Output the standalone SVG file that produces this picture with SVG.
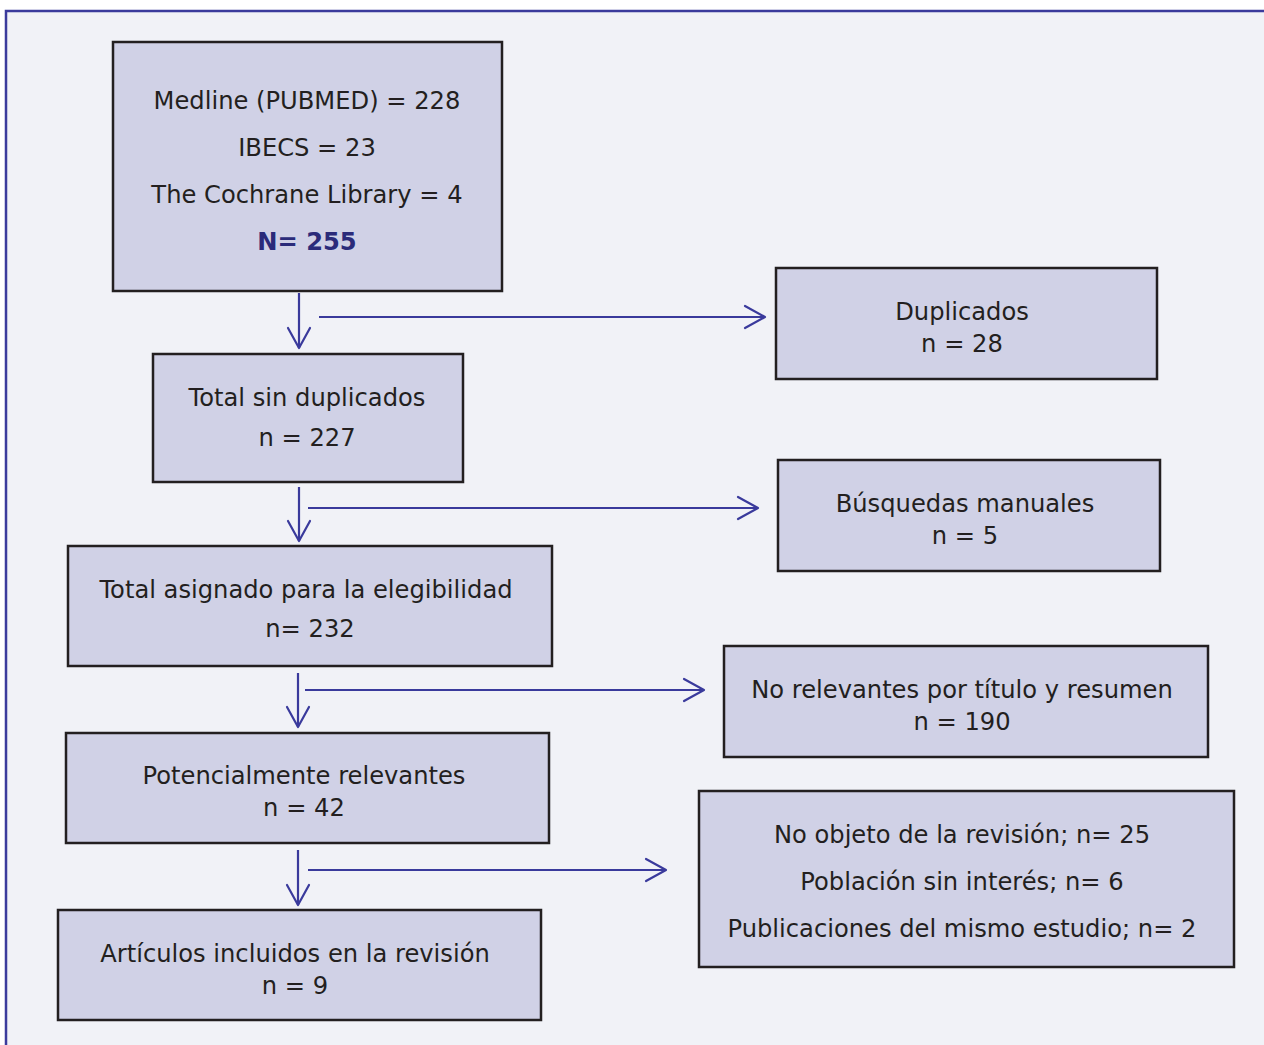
<svg xmlns="http://www.w3.org/2000/svg" width="1264" height="1045" viewBox="0 0 1264 1045">
<style>
.box{fill:#d0d1e6;stroke:#231f20;stroke-width:2.5}
.t{font-family:"DejaVu Sans",Verdana,sans-serif;font-size:24.2px;fill:#231f20;text-anchor:middle}
.b{font-weight:bold;fill:#2b2b7a}
.c{stroke:#3a3a9c;stroke-width:2.2;fill:none}
</style>
<defs>
<marker id="ah" viewBox="-22 -13 24 26" markerWidth="24" markerHeight="26" refX="0" refY="0" markerUnits="userSpaceOnUse" orient="auto">
<path d="M-20,-11 L0,0 L-20,11" fill="none" stroke="#3a3a9c" stroke-width="2.2" stroke-linejoin="round" stroke-linecap="round"/>
</marker>
</defs>
<rect x="0" y="0" width="1264" height="1045" fill="#ffffff"/>
<rect x="6" y="11" width="1258" height="1034" fill="#f1f2f7"/>
<path d="M6,1045 V11 H1264" fill="none" stroke="#3b3b9c" stroke-width="2.5"/>
<g id="n1">
<rect class="box" x="113" y="42" width="389" height="249"/>
<text class="t" x="307" y="109">Medline (PUBMED) = 228</text>
<text class="t" x="307" y="156">IBECS = 23</text>
<text class="t" x="307" y="203">The Cochrane Library = 4</text>
<text class="t b" x="307" y="250">N= 255</text>
</g>
<g id="n2">
<rect class="box" x="776" y="268" width="381" height="111"/>
<text class="t" x="962" y="320">Duplicados</text>
<text class="t" x="962" y="352">n = 28</text>
</g>
<g id="n3">
<rect class="box" x="153" y="354" width="310" height="128"/>
<text class="t" x="307" y="406">Total sin duplicados</text>
<text class="t" x="307" y="446">n = 227</text>
</g>
<g id="n4">
<rect class="box" x="778" y="460" width="382" height="111"/>
<text class="t" x="965" y="512">Búsquedas manuales</text>
<text class="t" x="965" y="544">n = 5</text>
</g>
<g id="n5">
<rect class="box" x="68" y="546" width="484" height="120"/>
<text class="t" x="306" y="598">Total asignado para la elegibilidad</text>
<text class="t" x="310" y="637">n= 232</text>
</g>
<g id="n6">
<rect class="box" x="724" y="646" width="484" height="111"/>
<text class="t" x="962" y="698">No relevantes por título y resumen</text>
<text class="t" x="962" y="730">n = 190</text>
</g>
<g id="n7">
<rect class="box" x="66" y="733" width="483" height="110"/>
<text class="t" x="304" y="784">Potencialmente relevantes</text>
<text class="t" x="304" y="816">n = 42</text>
</g>
<g id="n8">
<rect class="box" x="699" y="791" width="535" height="176"/>
<text class="t" x="962" y="843">No objeto de la revisión; n= 25</text>
<text class="t" x="962" y="890">Población sin interés; n= 6</text>
<text class="t" x="962" y="937">Publicaciones del mismo estudio; n= 2</text>
</g>
<g id="n9">
<rect class="box" x="58" y="910" width="483" height="110"/>
<text class="t" x="295" y="962">Artículos incluidos en la revisión</text>
<text class="t" x="295" y="994">n = 9</text>
</g>
<g id="connectors">
<line class="c" x1="299" y1="293" x2="299" y2="348" marker-end="url(#ah)"/>
<line class="c" x1="319" y1="317" x2="765" y2="317" marker-end="url(#ah)"/>
<line class="c" x1="299" y1="487" x2="299" y2="541" marker-end="url(#ah)"/>
<line class="c" x1="308" y1="508" x2="758" y2="508" marker-end="url(#ah)"/>
<line class="c" x1="298" y1="673" x2="298" y2="727" marker-end="url(#ah)"/>
<line class="c" x1="305" y1="690" x2="704" y2="690" marker-end="url(#ah)"/>
<line class="c" x1="298" y1="850" x2="298" y2="905" marker-end="url(#ah)"/>
<line class="c" x1="308" y1="870" x2="666" y2="870" marker-end="url(#ah)"/>
</g>
</svg>
